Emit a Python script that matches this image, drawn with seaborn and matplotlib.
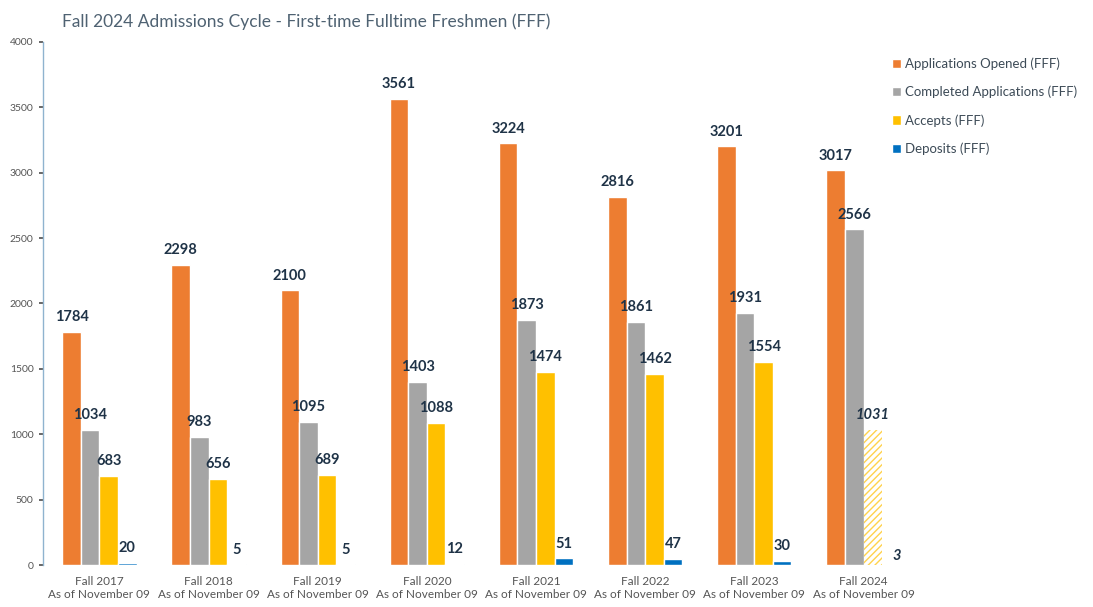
import matplotlib
matplotlib.use("Agg")
import matplotlib.pyplot as plt
import seaborn as sns
import pandas as pd

categories = ["Fall 2017\nAs of November 09", "Fall 2018\nAs of November 09",
              "Fall 2019\nAs of November 09", "Fall 2020\nAs of November 09",
              "Fall 2021\nAs of November 09", "Fall 2022\nAs of November 09",
              "Fall 2023\nAs of November 09", "Fall 2024\nAs of November 09"]
series = ["Applications Opened (FFF)", "Completed Applications (FFF)",
          "Accepts (FFF)", "Deposits (FFF)"]
opened = [1784, 2298, 2100, 3561, 3224, 2816, 3201, 3017]
completed = [1034, 983, 1095, 1403, 1873, 1861, 1931, 2566]
accepts = [683, 656, 689, 1088, 1474, 1462, 1554, 1031]
deposits = [20, 5, 5, 12, 51, 47, 30, 3]
colors = ["#ED7D31", "#A5A5A5", "#FFC000", "#0070C0"]

rows = []
for s, vals in zip(series, [opened, completed, accepts, deposits]):
    for c, v in zip(categories, vals):
        rows.append({"cat": c, "series": s, "value": v})
df = pd.DataFrame(rows)

sns.set_theme(style="white")
plt.rcParams['font.family'] = ['Lato', 'DejaVu Sans']

fig = plt.figure(figsize=(10.93, 6.07), dpi=100)
ax = fig.add_axes([0.039, 0.069, 0.803, 0.862])
sns.barplot(data=df, x="cat", y="value", hue="series", palette=colors,
            width=0.68, ax=ax, saturation=1, errorbar=None)

label_color = "#1F3347"
for ci, cont in enumerate(ax.containers):
    for i, bar in enumerate(cont):
        v = bar.get_height()
        last = (i == len(cont) - 1)
        if ci == 2 and last:
            bar.set_facecolor("white")
            bar.set_edgecolor("#FFD24D")
            bar.set_hatch("/////")
            bar.set_linewidth(0)
        style = "italic" if last and ci >= 2 else "normal"
        x = bar.get_x() + bar.get_width() / 2
        if ci == 3 and last:
            ax.text(x + 0.05, 20, f"{int(v)}", ha="center", va="bottom",
                    fontsize=10.5, color=label_color, style=style, fontweight="bold")
            continue
        ax.text(x, v + 60, f"{int(v)}", ha="center", va="bottom",
                fontsize=10.5, color=label_color, style=style, fontweight="bold")

ax.set_ylim(0, 4000)
ax.set_yticks(range(0, 4001, 500))
ax.tick_params(axis="y", labelsize=7.5, colors="#555555", length=3, left=True)
ax.tick_params(axis="x", labelsize=8.5, colors="#555555", length=0, pad=8)
ax.set_xlabel("")
ax.set_ylabel("")
for sp in ["top", "right", "bottom"]:
    ax.spines[sp].set_visible(False)
ax.spines["left"].set_color("#8FB3CF")
ax.spines["left"].set_linewidth(1)
ax.set_xlim(-0.52, 7.52)

fig.text(0.057, 0.965, "Fall 2024 Admissions Cycle - First-time Fulltime Freshmen (FFF)",
         fontsize=12.5, color="#4F6272", va="center", ha="left")

handles, labels = ax.get_legend_handles_labels()
leg = fig.legend(handles, labels, loc="upper left", bbox_to_anchor=(0.805, 0.925),
                 frameon=False, fontsize=9.5, handlelength=0.7, handleheight=0.7,
                 labelspacing=1.2, handletextpad=0.3, labelcolor="#3D4B57")
if ax.get_legend():
    ax.get_legend().remove()

fig.savefig("out.png", dpi=100)
